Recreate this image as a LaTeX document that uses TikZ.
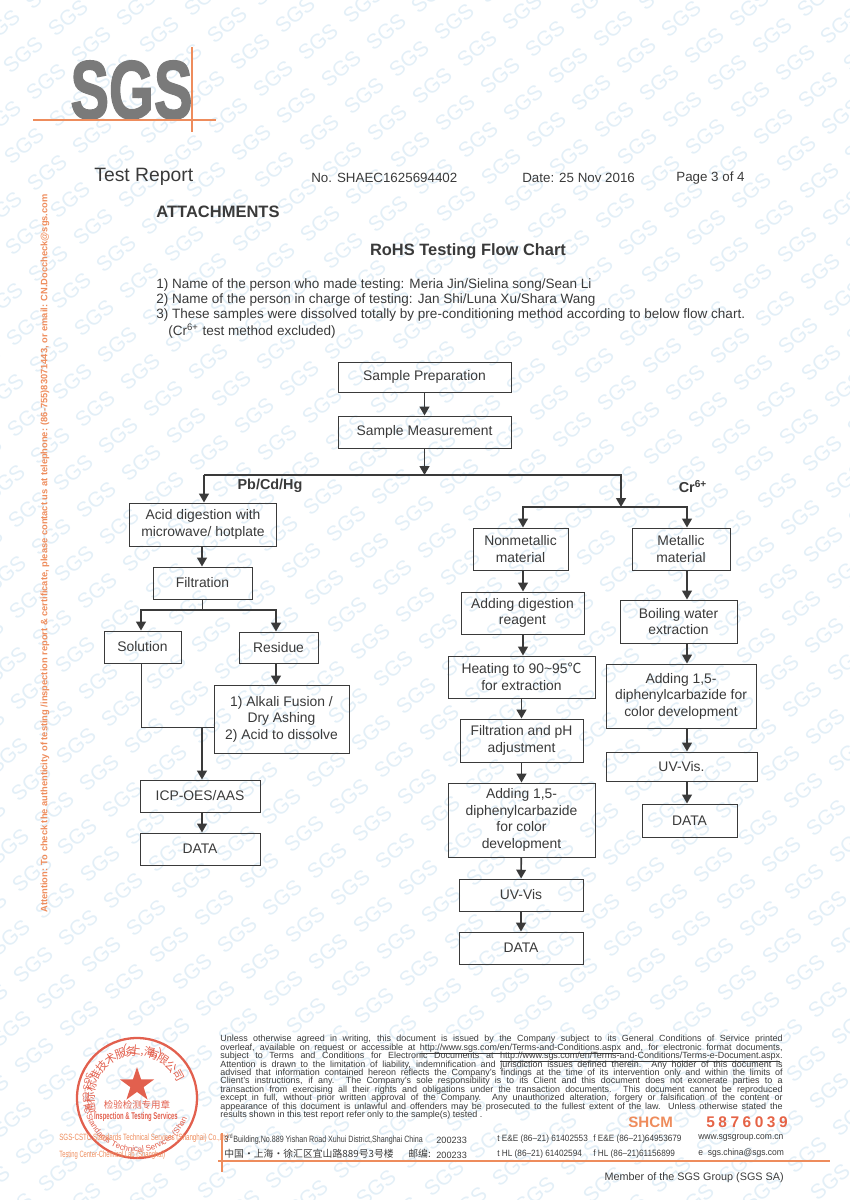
\documentclass[tikz,border=0pt]{standalone}
\usepackage{fontspec}
\usepackage{graphicx}
\setmainfont{Liberation Sans}
\newfontfamily\cjk{Noto Sans CJK SC}
\newfontfamily\logofont[FakeBold=2]{Liberation Sans Bold}
\usetikzlibrary{arrows.meta,shapes.geometric,decorations.text}
\definecolor{inkgray}{HTML}{3A3A3A}
\definecolor{sgsorange}{HTML}{EE8C5C}
\definecolor{stampred}{HTML}{E2604E}
\definecolor{wmblue}{HTML}{E3EFF7}
\newcommand{\fineline}[1]{\hbox to 320pt{#1}}
\newcommand{\fineurl}[1]{\vtop{\hbox{#1}\kern0.45pt\hrule height 0.2pt}}
\tikzset{
	boxsize/.style 2 args={minimum width=#1*0.02cm,minimum height=#2*0.02cm},
	flowbox/.style={draw=inkgray,line width=0.55pt,inner sep=0pt,align=center,text=inkgray,
		font=\fontsize{7.9}{9.4}\selectfont},
	flowthin/.style={draw=inkgray,line width=0.55pt},
	flowline/.style={draw=inkgray,line width=0.9pt},
	flowarrow/.style={flowline,-{Triangle[length=5pt,width=5.5pt]}},
	pagetext/.style={inner sep=0pt,anchor=west,text=inkgray,font=\fontsize{7.7}{9.4}\selectfont},
	boldtext/.style={inner sep=0pt,text=inkgray,font=\fontsize{8.2}{9.4}\selectfont\bfseries},
	footertext/.style={inner sep=0pt,anchor=west,text=inkgray,font=\fontsize{5.2}{6}\selectfont},
	orangeline/.style={draw=sgsorange,line width=0.7pt},
}
\begin{document}
\begin{tikzpicture}[x=0.02cm,y=-0.02cm]
	\useasboundingbox (0,0) rectangle (849,1200);

	% watermark
	\begin{scope}
		\clip (0,0) rectangle (849,1200);
		\foreach \i in {-45,...,15}
		\foreach \j in {-8,...,22}{
			\pgfmathtruncatemacro{\wx}{78+23*\i+68*\j}
			\pgfmathtruncatemacro{\wy}{928+27*\i-10*\j}
			\ifnum\wx>-30 \ifnum\wx<880 \ifnum\wy>-30 \ifnum\wy<1230
			\node[rotate=40,text=wmblue,font=\fontsize{12}{12}\selectfont] (wm-\i-\j) at (\wx,\wy) {SGS};
			\fi\fi\fi\fi
		}
	\end{scope}

	% logo
	\node[inner sep=0pt,text=black!52] (logo) at (131.5,90) {\scalebox{0.7}[1]{\fontsize{47}{47}\logofont SGS}};
	\draw[orangeline] (33,120) -- (216,120);
	\draw[orangeline] (192,47) -- (192,132);

	% heading
	\node[pagetext,font=\fontsize{11}{12}\selectfont] (report) at (94,177) {Test Report};
	\node[pagetext,font=\fontsize{7.6}{9}\selectfont] (number) at (311,178) {No. SHAEC1625694402};
	\node[pagetext,font=\fontsize{7.6}{9}\selectfont] (date) at (522,178) {Date: 25 Nov 2016};
	\node[pagetext,font=\fontsize{7.6}{9}\selectfont] (page) at (676,178) {Page 3 of 4};
	\node[boldtext,anchor=west,font=\fontsize{9.4}{10}\selectfont\bfseries] (attach) at (156,212) {ATTACHMENTS};
	\node[boldtext,font=\fontsize{9.35}{10}\selectfont\bfseries] (title) at (468,251) {RoHS Testing Flow Chart};
	\node[pagetext] (notea) at (156,284.5) {1) Name of the person who made testing: Meria Jin/Sielina song/Sean Li};
	\node[pagetext] (noteb) at (156,299.5) {2) Name of the person in charge of testing: Jan Shi/Luna Xu/Shara Wang};
	\node[pagetext] (notec) at (156,315) {3) These samples were dissolved totally by pre-conditioning method according to below flow chart.};
	\node[pagetext] (noted) at (168,331) {(Cr\textsuperscript{6+} test method excluded)};

	\node[rotate=90,inner sep=0pt,text=sgsorange] (attention) at (45,553.5) {\fontsize{5.3}{6}\selectfont\bfseries Attention: To check the authenticity of testing /inspection report \& certificate, please contact us at telephone: (86-755)83071443, or email: CN.Doccheck@sgs.com};

	% top of chart
	\node[flowbox,boxsize={173}{30}] (prep) at (424.5,377) {Sample Preparation};
	\node[flowbox,boxsize={173}{32}] (meas) at (424.5,432) {Sample Measurement};
	\coordinate (bus) at (424.5,475);
	\coordinate (busl) at (204,475);
	\coordinate (busr) at (621,475);
	\draw[flowarrow] (prep) -- (meas);
	\draw[flowarrow] (meas) -- (bus);
	\node[boldtext] (pbcd) at (270,486) {Pb/Cd/Hg};
	\node[boldtext] (crsix) at (693,487) {Cr\textsuperscript{6+}};

	% left branch
	\node[flowbox,boxsize={147}{43}] (acid) at (203,524.5) {Acid digestion with\\microwave/ hotplate};
	\node[flowbox,boxsize={99}{32}] (filt) at (202.5,583) {Filtration};
	\node[flowbox,boxsize={77}{32}] (soln) at (142.5,647) {Solution};
	\node[flowbox,boxsize={79}{31}] (resi) at (278.5,647.5) {Residue};
	\node[flowbox,boxsize={135}{68}] (alkali) at (281.5,719) {1) Alkali Fusion /\\Dry Ashing\\2) Acid to dissolve};
	\node[flowbox,boxsize={120}{32}] (icp) at (200,796) {ICP-OES/AAS};
	\node[flowbox,boxsize={120}{32}] (dataa) at (200,849) {DATA};
	\coordinate (split) at (202,610);
	\coordinate (splitl) at (141,610);
	\coordinate (splitr) at (276,610);
	\coordinate (joinl) at (141,727);
	\coordinate (join) at (202,727);
	\draw[flowline] (bus) -- (busl);
	\draw[flowarrow] (busl) -- (acid.north -| busl);
	\draw[flowarrow] (acid.south -| split) -- (filt.north -| split);
	\draw[flowthin] (filt.south -| split) -- (split);
	\draw[flowarrow] (split) -- (splitl) -- (soln.north -| splitl);
	\draw[flowarrow] (split) -- (splitr) -- (resi.north -| splitr);
	\draw[flowarrow] (resi.south -| splitr) -- (alkali.north -| splitr);
	\draw[flowthin] (soln.south -| joinl) -- (joinl) -- (alkali.west |- joinl);
	\draw[flowarrow] (join) -- (icp.north -| join);
	\draw[flowarrow] (icp.south -| join) -- (dataa.north -| join);

	% right branch, Cr(VI)
	\coordinate (bustwo) at (621,507);
	\coordinate (bustwol) at (523,507);
	\coordinate (bustwor) at (687,507);
	\node[flowbox,boxsize={95}{42}] (nonmet) at (520.5,549) {Nonmetallic\\material};
	\node[flowbox,boxsize={123}{42}] (reagent) at (522.5,613) {Adding digestion\\reagent};
	\node[flowbox,boxsize={147}{42}] (heat) at (521.5,677) {Heating to 90\textasciitilde95{\cjk ℃}\\for extraction};
	\node[flowbox,boxsize={123}{43}] (adjust) at (521.5,740.5) {Filtration and pH\\adjustment};
	\node[flowbox,boxsize={147}{74}] (diphena) at (521.5,820) {Adding 1,5-\\diphenylcarbazide\\for color\\development};
	\node[flowbox,boxsize={124}{32}] (uva) at (521,895) {UV-Vis};
	\node[flowbox,boxsize={124}{32}] (datab) at (521,948) {DATA};
	\node[flowbox,boxsize={98}{42}] (metal) at (681,549) {Metallic\\material};
	\node[flowbox,boxsize={117}{43}] (boil) at (678.5,621.5) {Boiling water\\extraction};
	\node[flowbox,boxsize={150}{64}] (diphenb) at (681,696) {Adding 1,5-\\diphenylcarbazide for\\color development};
	\node[flowbox,boxsize={151}{29}] (uvb) at (681.5,766.5) {UV-Vis.};
	\node[flowbox,boxsize={95}{33}] (datac) at (689.5,820.5) {DATA};
	\draw[flowarrow] (bus) -- (busr) -- (bustwo);
	\draw[flowarrow] (bustwo) -- (bustwol) -- (nonmet.north -| bustwol);
	\draw[flowarrow] (bustwo) -- (bustwor) -- (metal.north -| bustwor);
	\draw[flowarrow] (nonmet.south -| bustwol) -- (reagent.north -| bustwol);
	\draw[flowarrow] (reagent.south -| bustwol) -- (heat.north -| bustwol);
	\draw[flowarrow] (heat) -- (adjust);
	\draw[flowarrow] (adjust) -- (diphena);
	\draw[flowarrow] (diphena) -- (uva);
	\draw[flowarrow] (uva) -- (datab);
	\draw[flowarrow] (metal.south -| bustwor) -- (boil.north -| bustwor);
	\draw[flowarrow] (boil.south -| bustwor) -- (diphenb.north -| bustwor);
	\draw[flowarrow] (diphenb.south -| bustwor) -- (uvb.north -| bustwor);
	\draw[flowarrow] (uvb.south -| bustwor) -- (datac.north -| bustwor);

	% stamp
	\coordinate (stamp) at (137,1098);
	\draw[draw=stampred,line width=1.3pt] (stamp) circle[radius=1.2cm];
	\node[star,star points=5,star point ratio=2.6,fill=stampred,minimum size=0.72cm,inner sep=0pt] (stampstar) at (137,1085) {};
	\foreach \ch [count=\n] in {通,标,标,准,技,术,服,务,(,上,海,),有,限,公,司}{
		\pgfmathsetmacro{\ang}{193-(\n-1)*13.7}
		\node[rotate=\ang-90,inner sep=0pt,text=stampred,font=\cjk\fontsize{6.4}{7}\selectfont] (stampch\n) at ([shift={(\ang:0.94cm)}]stamp) {\ch};
	}
	\node[inner sep=0pt,text=stampred,font=\cjk\fontsize{5.4}{6}\selectfont] (stamptype) at (137,1105) {检验检测专用章};
	\node[inner sep=0pt,text=stampred] (stampserv) at (136,1117) {\scalebox{0.6}[1]{\fontsize{5.6}{6}\selectfont\bfseries Inspection \& Testing Services}};
	\path[decorate,decoration={text along path,text align=center,
		text={|\fontsize{4.6}{5}\selectfont\color{stampred}|SGS-CSTC Standards Technical Services (Shanghai) Co.,Ltd}}]
		([shift={(200:1.08cm)}]stamp) arc[start angle=200,end angle=340,radius=1.08cm];
	\node[footertext,text=sgsorange] (cstc) at (59,1138) {\scalebox{0.68}[1]{SGS-CSTC Standards Technical Services (Shanghai) Co.,Ltd.}};
	\node[footertext,text=sgsorange] (center) at (59,1155) {\scalebox{0.64}[1]{Testing Center-Chemical Lab (Shanghai)}};

	% small print
	\node[inner sep=0pt,anchor=north west,text=inkgray] (small) at (220,1035) {\vbox{\fontsize{5.1}{4.8}\selectfont\baselineskip=4.79pt\lineskiplimit=-10pt
		\fineline{Unless otherwise agreed in writing, this document is issued by the Company subject to its General Conditions of Service printed}
		\fineline{overleaf, available on request or accessible at \fineurl{http://www.sgs.com/en/Terms-and-Conditions.aspx} and, for electronic format documents,}
		\fineline{subject to Terms and Conditions for Electronic Documents at \fineurl{http://www.sgs.com/en/Terms-and-Conditions/Terms-e-Document.aspx}.}
		\fineline{Attention is drawn to the limitation of liability, indemnification and jurisdiction issues defined therein. Any holder of this document is}
		\fineline{advised that information contained hereon reflects the Company's findings at the time of its intervention only and within the limits of}
		\fineline{Client's instructions, if any. The Company's sole responsibility is to its Client and this document does not exonerate parties to a}
		\fineline{transaction from exercising all their rights and obligations under the transaction documents. This document cannot be reproduced}
		\fineline{except in full, without prior written approval of the Company. Any unauthorized alteration, forgery or falsification of the content or}
		\fineline{appearance of this document is unlawful and offenders may be prosecuted to the fullest extent of the law. Unless otherwise stated the}
		\fineline{results shown in this test report refer only to the sample(s) tested .\hfill}}};

	\node[inner sep=0pt,anchor=west,text=sgsorange,font=\fontsize{8.6}{9}\selectfont\bfseries] (shcm) at (628,1122) {SHCM};
	\node[inner sep=0pt,anchor=west,text=stampred!90!orange,font=\fontsize{8.8}{11}\selectfont\bfseries] (serial) at (706,1122) {5\kern2pt 8\kern2pt 7\kern2pt 6\kern2pt 0\kern2pt 3\kern2pt 9};

	% address lines
	\node[footertext] (addra) at (224,1139) {\scalebox{0.78}[1]{3\textsuperscript{rd}Building,No.889 Yishan Road Xuhui District,Shanghai China}};
	\node[footertext] (zipa) at (436,1140) {200233};
	\node[footertext,font=\cjk\fontsize{5.6}{6}\selectfont] (addrb) at (224,1154) {中国・上海・徐汇区宜山路889号3号楼};
	\node[footertext,font=\cjk\fontsize{5.6}{6}\selectfont] (zipb) at (408,1154) {邮编:};
	\node[footertext] (zipc) at (436,1155) {200233};
	\node[footertext] (tela) at (497,1139) {\scalebox{0.9}[1]{t E\&E (86--21) 61402553}};
	\node[footertext] (faxa) at (593,1139) {\scalebox{0.9}[1]{f E\&E (86--21)64953679}};
	\node[footertext] (telb) at (497,1154) {\scalebox{0.9}[1]{t HL (86--21) 61402594}};
	\node[footertext] (faxb) at (593,1154) {\scalebox{0.9}[1]{f HL (86--21)61156899}};
	\node[footertext] (web) at (698,1138) {\scalebox{0.93}[1]{www.sgsgroup.com.cn}};
	\node[footertext] (mail) at (698,1153) {\scalebox{0.93}[1]{e\ \ sgs.china@sgs.com}};
	\draw[orangeline] (218,1161) -- (830,1161);
	\draw[orangeline] (222,1133) -- (222,1172);
	\node[inner sep=0pt,anchor=east,text=inkgray,font=\fontsize{6.15}{7}\selectfont] (member) at (784,1178) {Member of the SGS Group (SGS SA)};
\end{tikzpicture}
\end{document}
